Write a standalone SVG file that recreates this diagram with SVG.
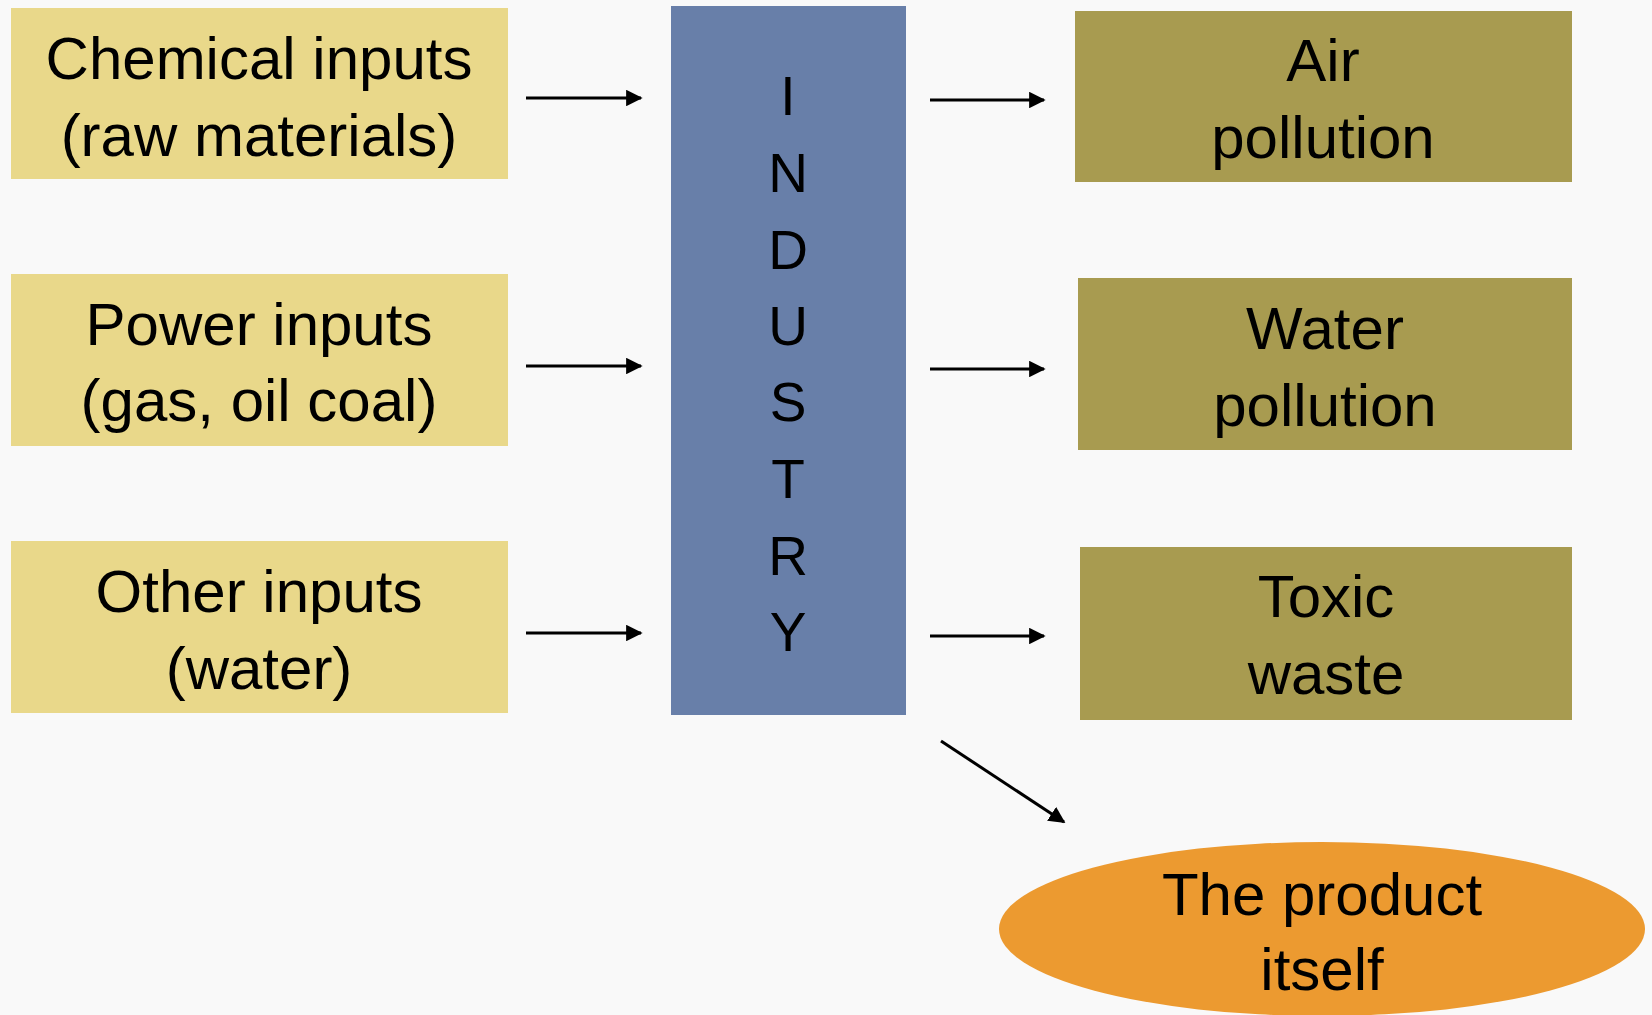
<svg xmlns="http://www.w3.org/2000/svg" width="1652" height="1015" viewBox="0 0 1652 1015">
<style>
text{font-family:"Liberation Sans",Arial,sans-serif;fill:#000;text-anchor:middle}
.t{font-size:60px}
.v{font-size:55px}
.in{fill:#e9d88a}
.out{fill:#a89b50}
.conn{stroke:#000;stroke-width:3;fill:none;marker-end:url(#ah)}
</style>
<defs>
<marker id="ah" viewBox="0 0 10 10" refX="9" refY="5" markerWidth="5.5" markerHeight="5.5" orient="auto" markerUnits="strokeWidth">
<path d="M0,0 L10,5 L0,10 z" fill="#000"/>
</marker>
</defs>
<rect width="1652" height="1015" fill="#f9f9f9"/>
<g id="chemical">
<rect class="in" x="11" y="8" width="497" height="171"/>
<text class="t" x="259" y="79">Chemical inputs</text>
<text class="t" x="259" y="156">(raw materials)</text>
</g>
<g id="power">
<rect class="in" x="11" y="274" width="497" height="172"/>
<text class="t" x="259" y="345">Power inputs</text>
<text class="t" x="259" y="421">(gas, oil coal)</text>
</g>
<g id="other">
<rect class="in" x="11" y="541" width="497" height="172"/>
<text class="t" x="259" y="612">Other inputs</text>
<text class="t" x="259" y="689">(water)</text>
</g>
<g id="industry">
<rect x="671" y="6" width="235" height="709" fill="#687fa9"/>
<text class="v" x="788" y="115">I</text>
<text class="v" x="788" y="192">N</text>
<text class="v" x="788" y="269">D</text>
<text class="v" x="788" y="345">U</text>
<text class="v" x="788" y="421">S</text>
<text class="v" x="788" y="498">T</text>
<text class="v" x="788" y="575">R</text>
<text class="v" x="788" y="651">Y</text>
</g>
<g id="air">
<rect class="out" x="1075" y="11" width="497" height="171"/>
<text class="t" x="1323" y="81">Air</text>
<text class="t" x="1323" y="158">pollution</text>
</g>
<g id="water">
<rect class="out" x="1078" y="278" width="494" height="172"/>
<text class="t" x="1325" y="349">Water</text>
<text class="t" x="1325" y="426">pollution</text>
</g>
<g id="toxic">
<rect class="out" x="1080" y="547" width="492" height="173"/>
<text class="t" x="1326" y="617">Toxic</text>
<text class="t" x="1326" y="694">waste</text>
</g>
<g id="product">
<ellipse cx="1322" cy="929" rx="323" ry="87" fill="#ec9a30"/>
<text class="t" x="1322" y="915">The product</text>
<text class="t" x="1322" y="990">itself</text>
</g>
<g id="connectors">
<line class="conn" x1="526" y1="98" x2="641" y2="98"/>
<line class="conn" x1="526" y1="366" x2="641" y2="366"/>
<line class="conn" x1="526" y1="633" x2="641" y2="633"/>
<line class="conn" x1="930" y1="100" x2="1044" y2="100"/>
<line class="conn" x1="930" y1="369" x2="1044" y2="369"/>
<line class="conn" x1="930" y1="636" x2="1044" y2="636"/>
<line class="conn" x1="941" y1="741" x2="1064" y2="822"/>
</g>
</svg>
